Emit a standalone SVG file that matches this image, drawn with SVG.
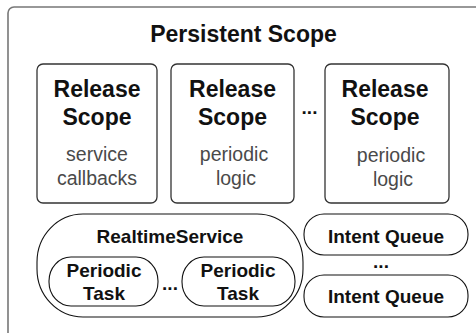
<svg xmlns="http://www.w3.org/2000/svg" width="476" height="333" viewBox="0 0 476 333">
<style>
.outer{fill:#fff;stroke:#777;stroke-width:1.6}
.rel{fill:#fff;stroke:#333;stroke-width:1.3}
.pill{fill:#fff;stroke:#111;stroke-width:1.1}
.b{font-family:"Liberation Sans",Arial,sans-serif;font-weight:bold;fill:#111;text-anchor:middle}
.t{font-family:"Liberation Sans",Arial,sans-serif;fill:#4a4a4a;text-anchor:middle;font-size:19.5px}
.big{font-size:23px}
.mid{font-size:19px}
</style>
<rect width="476" height="333" fill="#fff"/>
<g id="persistent-scope">
<rect class="outer" x="8" y="7" width="490" height="350" rx="6"/>
<text class="b big" x="243.5" y="42">Persistent Scope</text>
</g>
<g id="release-scope-1">
<rect class="rel" x="37" y="64" width="120" height="139" rx="6"/>
<text class="b big" x="97" y="97">Release</text>
<text class="b big" x="97" y="125">Scope</text>
<text class="t" x="97" y="161">service</text>
<text class="t" x="97" y="185">callbacks</text>
</g>
<g id="release-scope-2">
<rect class="rel" x="171" y="64" width="123" height="139" rx="6"/>
<text class="b big" x="232.5" y="97">Release</text>
<text class="b big" x="232.5" y="125">Scope</text>
<text class="t" x="234" y="161">periodic</text>
<text class="t" x="236" y="185">logic</text>
</g>
<g id="release-scope-3">
<rect class="rel" x="325" y="64" width="124" height="139" rx="6"/>
<text class="b big" x="385" y="97">Release</text>
<text class="b big" x="385" y="125">Scope</text>
<text class="t" x="391" y="162">periodic</text>
<text class="t" x="393" y="186">logic</text>
</g>
<g id="ellipsis-release">
<text class="b mid" x="309.5" y="114">...</text>
</g>
<g id="realtime-service">
<rect class="pill" x="37" y="214" width="266" height="103" rx="46" ry="48"/>
<text class="b mid" x="170" y="243">RealtimeService</text>
</g>
<g id="periodic-task-1">
<rect class="pill" x="49" y="257" width="109" height="49" rx="22" ry="24"/>
<text class="b mid" x="104" y="277">Periodic</text>
<text class="b mid" x="104" y="300">Task</text>
</g>
<g id="ellipsis-tasks">
<text class="b mid" x="170" y="290">...</text>
</g>
<g id="periodic-task-2">
<rect class="pill" x="182" y="257" width="113" height="49" rx="22" ry="24"/>
<text class="b mid" x="238" y="277">Periodic</text>
<text class="b mid" x="238" y="300">Task</text>
</g>
<g id="intent-queue-1">
<rect class="pill" x="304" y="214" width="164" height="41" rx="20" ry="20"/>
<text class="b mid" x="386" y="243">Intent Queue</text>
</g>
<g id="ellipsis-queues">
<text class="b mid" x="381" y="268">...</text>
</g>
<g id="intent-queue-2">
<rect class="pill" x="304" y="275" width="164" height="42" rx="20" ry="20"/>
<text class="b mid" x="386" y="303">Intent Queue</text>
</g>
<g id="connectors"></g>
</svg>
